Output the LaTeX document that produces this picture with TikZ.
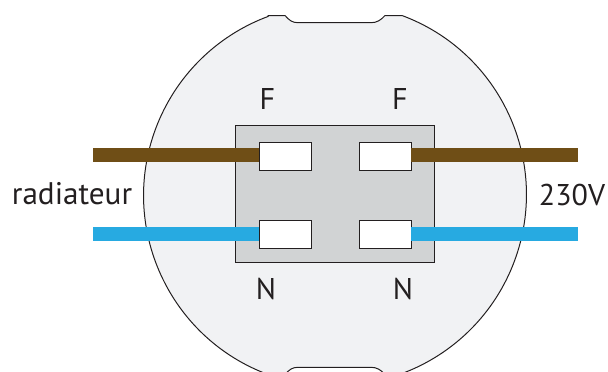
\documentclass[tikz,border=0pt]{standalone}
\usepackage{fontspec}
\setmainfont{PT Sans}
\definecolor{brownw}{HTML}{6F4E16}
\definecolor{bluew}{HTML}{27AAE1}
\definecolor{plate}{HTML}{F1F2F4}
\definecolor{blockc}{HTML}{D1D3D4}
\definecolor{ink}{HTML}{231F20}
\tikzset{
  terminal/.style={draw=ink,line width=1pt,fill=white,minimum width=52pt,minimum height=28pt,inner sep=0pt,outer sep=0pt},
  wire/.style={line width=13.5pt},
  lbl/.style={font=\fontsize{30}{32}\selectfont,text=ink,inner sep=0pt,anchor=base}
}
\begin{document}
\begin{tikzpicture}[x=1pt,y=-1pt]
\useasboundingbox (0,0) rectangle (608,372);
\begin{scope}
\clip (0,0) rectangle (608,372);
\draw[draw=ink,line width=1pt,fill=plate]
  (268,15.5) -- (285,15.5) .. controls (289,20) and (292,22.7) .. (298,22.7) -- (371,22.7)
  .. controls (377,22.7) and (381,20) .. (385,15.5) -- (402,15.5)
  arc[start angle=-69.6,end angle=69.6,radius=191]
  -- (385,374.5) .. controls (381,370) and (377,367.3) .. (371,367.3) -- (298,367.3)
  .. controls (292,367.3) and (289,370) .. (285,374.5) -- (268,374.5)
  arc[start angle=110.4,end angle=249.6,radius=191] -- cycle;
\end{scope}
\node[draw=ink,line width=1pt,fill=blockc,minimum width=199pt,minimum height=137pt,inner sep=0pt,outer sep=0pt] (block) at (334.5,193.5) {};
\coordinate (bl) at (93,155);
\coordinate (br) at (578,155);
\coordinate (nl) at (93,234);
\coordinate (nr) at (578,234);
\node[terminal] (tfl) at (285,156) {};
\node[terminal] (tfr) at (385,156) {};
\node[terminal] (tnl) at (285,234) {};
\node[terminal] (tnr) at (385,234) {};
\draw[wire,brownw] (bl) -- (bl -| tfl.west);
\draw[wire,brownw] (br -| tfr.east) -- (br);
\draw[wire,bluew] (nl) -- (tnl.west);
\draw[wire,bluew] (tnr.east) -- (nr);
\node[lbl] (f1) at (267.5,109) {F};
\node[lbl] (f2) at (400,109) {F};
\node[lbl] (n1) at (266,299) {N};
\node[lbl] (n2) at (403,299) {N};
\node[lbl,font=\fontsize{31.2}{33}\selectfont] (rad) at (72,204) {radiateur};
\node[lbl] (v) at (572,205) {230V};
\end{tikzpicture}
\end{document}
